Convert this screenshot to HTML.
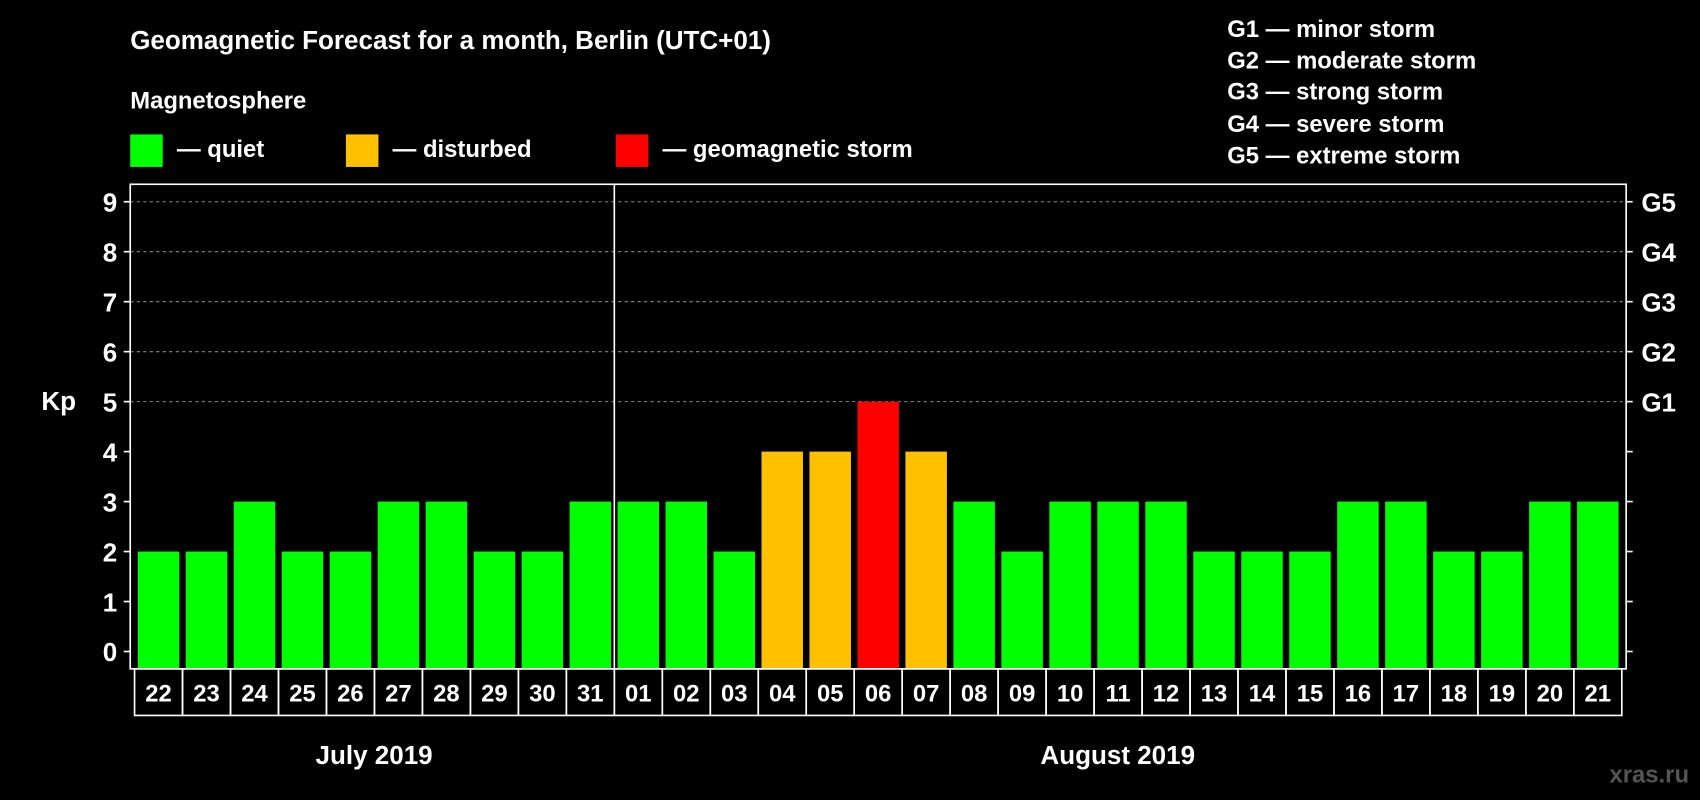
<!DOCTYPE html>
<html><head><meta charset="utf-8">
<style>
html,body{margin:0;padding:0;background:#000;}
svg{display:block;}
text{font-family:"Liberation Sans",Arial,sans-serif;font-weight:bold;fill:#fff;}
</style></head>
<body>
<svg id="chart" width="1700" height="800" viewBox="0 0 1568 738" xmlns="http://www.w3.org/2000/svg">
<rect width="1568" height="738" fill="#000"/>
<text x="120" y="45" font-size="24">Geomagnetic Forecast for a month, Berlin (UTC+01)</text>
<text x="120" y="100" font-size="22">Magnetosphere</text>
<g>
<rect x="120" y="124" width="30" height="30" fill="#00ff00"/>
<text x="163" y="145" font-size="22">— quiet</text>
<rect x="319" y="124" width="30" height="30" fill="#ffc000"/>
<text x="362" y="145" font-size="22">— disturbed</text>
<rect x="568" y="124" width="30" height="30" fill="#ff0000"/>
<text x="611" y="145" font-size="22">— geomagnetic storm</text>
</g>
<g font-size="22">
<text x="1132" y="34">G1 — minor storm</text>
<text x="1132" y="63">G2 — moderate storm</text>
<text x="1132" y="92">G3 — strong storm</text>
<text x="1132" y="122">G4 — severe storm</text>
<text x="1132" y="151">G5 — extreme storm</text>
</g>
<text x="38" y="378" font-size="24">Kp</text>
<g id="plot"></g>
<text x="345" y="705" font-size="24" text-anchor="middle">July 2019</text>
<text x="1031" y="705" font-size="24" text-anchor="middle">August 2019</text>
<text x="1558" y="722" font-size="22" text-anchor="end" style="fill:#555">xras.ru</text>
</svg>
<script>
const days = ["22","23","24","25","26","27","28","29","30","31","01","02","03","04","05","06","07","08","09","10","11","12","13","14","15","16","17","18","19","20","21"];
const kpValues = [2,2,3,2,2,3,3,2,2,3,3,3,2,4,4,5,4,3,2,3,3,3,2,2,2,3,3,2,2,3,3];
const yTicks = [0,1,2,3,4,5,6,7,8,9];
const gLabels = ["G1","G2","G3","G4","G5"];
const gLevels = [5,6,7,8,9];

const NS="http://www.w3.org/2000/svg";
const plot=document.getElementById('plot');
const L=120,R=1500,T=170,B=617,X0=124,X1=1496;
const y=v=>601-v*46.1;
const slot=(X1-X0)/days.length;
const x=i=>X0+i*slot;
function mk(tag,attrs){const e=document.createElementNS(NS,tag);for(const k in attrs)e.setAttribute(k,attrs[k]);plot.appendChild(e);return e;}
// grid
gLevels.forEach(v=>{
  const g=mk('line',{x1:L,x2:R,y1:y(v),y2:y(v),stroke:'#888','stroke-dasharray':'3,3','stroke-width':1});
  
  
});
// bars
kpValues.forEach((v,i)=>{
  const c=v>=5?'#ff0000':(v>=4?'#ffc000':'#00ff00');
  const b=mk('rect',{x:x(i)+3,y:y(v),width:slot-6,height:B-y(v),fill:c});
  
  
});
// frame
const fr=mk('rect',{x:L,y:T,width:R-L,height:B-T,fill:'none',stroke:'#fff','stroke-width':1.5});


const dv=mk('line',{x1:x(10),x2:x(10),y1:T,y2:B,stroke:'#fff','stroke-width':1.5});


// y ticks
yTicks.forEach(v=>{
  const t1=mk('line',{x1:L-6,x2:L,y1:y(v),y2:y(v),stroke:'#fff','stroke-width':1.5});
  
  
  const t2=mk('line',{x1:R,x2:R+6,y1:y(v),y2:y(v),stroke:'#fff','stroke-width':1.5});
  
  
  const tx=mk('text',{x:L-12,y:y(v)+9,'font-size':24,'text-anchor':'end'});
  tx.textContent=v;
  
  
});
gLabels.forEach((g,i)=>{
  const tx=mk('text',{x:R+14,y:y(gLevels[i])+9,'font-size':24});
  tx.textContent=g;
  
  
});
// day cells
days.forEach((d,i)=>{
  const c=mk('rect',{x:x(i),y:B,width:slot,height:43,fill:'none',stroke:'#fff','stroke-width':1.5});
  
  
  const tx=mk('text',{x:x(i)+slot/2,y:B+30,'font-size':22,'text-anchor':'middle'});
  tx.textContent=d;
  
  
});
</script>
</body></html>
